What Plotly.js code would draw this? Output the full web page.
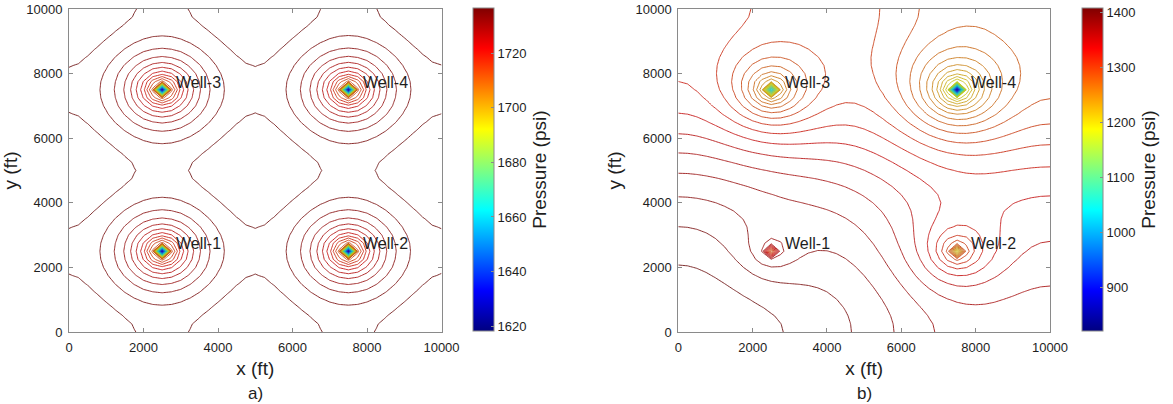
<!DOCTYPE html>
<html>
<head>
<meta charset="utf-8">
<script src="https://cdn.plot.ly/plotly-3.0.1.min.js"></script>
<style>
  html, body { margin: 0; padding: 0; background: #fff; }
  #chart { width: 1173px; height: 404px; }
</style>
</head>
<body>
<div id="chart"></div>
<script>
// ---------------- data ----------------
const wellNames = ['Well-1', 'Well-2', 'Well-3', 'Well-4'];
const wellX = [2500, 7500, 2500, 7500];          // ft
const wellY = [2500, 2500, 7500, 7500];          // ft

// grid nodes of the simulation (ft)
const gridX = [0,250,500,750,1000,1250,1500,1750,2000,2250,2500,2750,3000,3250,3500,3750,4000,4250,4500,4750,5000,
               5250,5500,5750,6000,6250,6500,6750,7000,7250,7500,7750,8000,8250,8500,8750,9000,9250,9500,9750,10000];
const gridY = gridX.slice();

// panel a) : equal producers
const strengthA = [12.7, 12.7, 12.7, 12.7];            // psi per ln(ft), from ring spacing
const wellPressureA = [1618.2, 1618.2, 1618.2, 1618.2]; // psi at well blocks
const rangeA = [1618.2, 1736.5];                        // colour bar range (psi)
const ticksA = [1620, 1640, 1660, 1680, 1700, 1720];
const levelPhaseA = 0.23;                               // first level above min, in steps

// panel b) : unequal producers
const strengthB = [14, 32, 46, 56];                     // psi per ln(ft)
const wellPressureB = [1260, 1185, 1030, 820.5];        // psi at well blocks
const rangeB = [820.5, 1407.3];                         // colour bar range (psi)
const ticksB = [900, 1000, 1100, 1200, 1300, 1400];
const levelPhaseB = 0.1;

const levelCount = 50;
const axisTicks = [0, 2000, 4000, 6000, 8000, 10000];
const axisTickText = ['0', '2000', '4000', '6000', '8000', '10000'];

// ---------------- pressure field (closed square, image wells, pseudo-steady) ----------------
function pressureField(strength, wellP, pMax) {
  const L2 = 20000, K = 6;
  const Q = strength.reduce((s, v) => s + v, 0);
  const quad = Math.PI / 2 * Q / 1e8;
  const z = [];
  for (let j = 0; j < gridY.length; j++) {
    const row = [];
    for (let i = 0; i < gridX.length; i++) {
      const x = gridX[i], y = gridY[j];
      let f = 0;
      for (let w = 0; w < wellX.length; w++) {
        for (const sx of [1, -1]) for (const sy of [1, -1]) {
          for (let m = -K; m <= K; m++) {
            const dx = x - (sx * wellX[w] + L2 * m);
            for (let n = -K; n <= K; n++) {
              const dy = y - (sy * wellY[w] + L2 * n);
              const r2 = dx * dx + dy * dy;
              if (r2 > 0) f += strength[w] * 0.5 * Math.log(r2);
            }
          }
        }
      }
      f -= quad * (x * x + y * y);
      row.push(f);
    }
    z.push(row);
  }
  const isWell = (x, y) => wellX.some((wx, k) => wx === x && wellY[k] === y);
  let fmax = -Infinity;
  for (let j = 0; j < gridY.length; j++)
    for (let i = 0; i < gridX.length; i++)
      if (!isWell(gridX[i], gridY[j])) fmax = Math.max(fmax, z[j][i]);
  const C = pMax - fmax;
  for (let j = 0; j < gridY.length; j++)
    for (let i = 0; i < gridX.length; i++) z[j][i] += C;
  for (let w = 0; w < wellX.length; w++) {
    const i = gridX.indexOf(wellX[w]), j = gridY.indexOf(wellY[w]);
    z[j][i] = wellP[w];
  }
  return z;
}

const zA = pressureField(strengthA, wellPressureA, rangeA[1]);
const zB = pressureField(strengthB, wellPressureB, rangeB[1]);

// ---------------- styling ----------------
const jetStops = [[0, [0, 0, 128]], [0.125, [0, 0, 255]], [0.375, [0, 255, 255]], [0.625, [255, 255, 0]], [0.875, [255, 0, 0]], [1, [128, 0, 0]]];
const jet = jetStops.map(s => [s[0], 'rgb(' + s[1].join(',') + ')']);
// contour lines: same map, muted like the thin printed lines
const jetLines = jetStops.map(s => [s[0], 'rgb(' + s[1].map(c => Math.round(c * 0.7 + 75 * 0.3)).join(',') + ')']);

const FONT = '"Liberation Sans", Arial, Helvetica, sans-serif';
const TXT = '#1e1e1e';
const AX = '#8a8a8a';
const W = 1173, H = 404;
const yDom = [1 - 332 / H, 1 - 9 / H];

function contourTrace(z, range, phase, xa, ya) {
  const step = (range[1] - range[0]) / (levelCount + 1);
  return {
    type: 'contour', x: gridX, y: gridY, z: z, xaxis: xa, yaxis: ya,
    colorscale: jetLines, zauto: false, zmin: range[0], zmax: range[1],
    showscale: false, hoverinfo: 'skip',
    contours: { coloring: 'lines', start: range[0] + phase * step, end: range[1], size: step, showlabels: false },
    line: { width: 0.9, smoothing: 0 }
  };
}
function colorbarTrace(range, ticks, xa, ya, cbx) {
  return {
    type: 'scatter', mode: 'markers', x: [wellX[0]], y: [wellY[0]], xaxis: xa, yaxis: ya,
    hoverinfo: 'skip', showlegend: false,
    marker: {
      size: 1, opacity: 0, color: [range[0]], cmin: range[0], cmax: range[1], colorscale: jet, showscale: true,
      colorbar: {
        x: cbx, xanchor: 'left', y: 1 - 169.6 / H, yanchor: 'middle',
        len: 322.7, lenmode: 'pixels', thickness: 21, thicknessmode: 'pixels',
        xpad: 0, ypad: 0, outlinewidth: 1, outlinecolor: AX,
        tickvals: ticks, ticks: 'inside', ticklen: 3, tickcolor: AX,
        tickfont: { family: FONT, size: 13, color: TXT },
        title: { text: 'Pressure (psi)', side: 'right', font: { family: FONT, size: 19, color: TXT } }
      }
    }
  };
}

function axis(domain, anchor, titleText, standoff) {
  return {
    domain: domain, anchor: anchor, range: [0, 10000], tickvals: axisTicks, ticktext: axisTickText,
    showline: true, mirror: 'ticks', linecolor: AX, linewidth: 1,
    ticks: 'inside', ticklen: 4, tickcolor: AX, ticklabelstandoff: 3,
    showgrid: false, zeroline: false, fixedrange: true,
    tickfont: { family: FONT, size: 13, color: TXT },
    title: { text: titleText, standoff: standoff, font: { family: FONT, size: 19, color: TXT } }
  };
}

const annotations = [];
function wellLabels(xref, yref) {
  for (let k = 0; k < wellNames.length; k++) {
    annotations.push({
      x: wellX[k] + 330, y: wellY[k] + 230, xref: xref, yref: yref,
      text: wellNames[k], showarrow: false, xanchor: 'left', yanchor: 'middle',
      font: { family: FONT, size: 16, color: TXT }
    });
  }
}
wellLabels('x', 'y');
wellLabels('x2', 'y2');
annotations.push({ x: (69 + 441.5) / 2 / W, y: 1 - 393 / H, xref: 'paper', yref: 'paper', text: 'a)', showarrow: false,
  xanchor: 'center', yanchor: 'middle', font: { family: FONT, size: 17, color: TXT } });
annotations.push({ x: (678.3 + 1050) / 2 / W, y: 1 - 393 / H, xref: 'paper', yref: 'paper', text: 'b)', showarrow: false,
  xanchor: 'center', yanchor: 'middle', font: { family: FONT, size: 17, color: TXT } });

const layout = {
  width: W, height: H, margin: { l: 0, r: 0, t: 0, b: 0 },
  paper_bgcolor: '#fff', plot_bgcolor: '#fff', showlegend: false,
  font: { family: FONT, color: TXT },
  xaxis: axis([69 / W, 441.5 / W], 'y', 'x (ft)', 8),
  yaxis: axis(yDom, 'x', 'y (ft)', 8),
  xaxis2: axis([678.3 / W, 1050 / W], 'y2', 'x (ft)', 8),
  yaxis2: axis(yDom, 'x2', 'y (ft)', 8),
  annotations: annotations
};

const data = [
  contourTrace(zA, rangeA, levelPhaseA, 'x', 'y'),
  contourTrace(zB, rangeB, levelPhaseB, 'x2', 'y2'),
  colorbarTrace(rangeA, ticksA, 'x', 'y', 472.7 / W),
  colorbarTrace(rangeB, ticksB, 'x2', 'y2', 1081.7 / W)
];

Plotly.newPlot('chart', data, layout, { displayModeBar: false, staticPlot: true });
</script>
</body>
</html>
